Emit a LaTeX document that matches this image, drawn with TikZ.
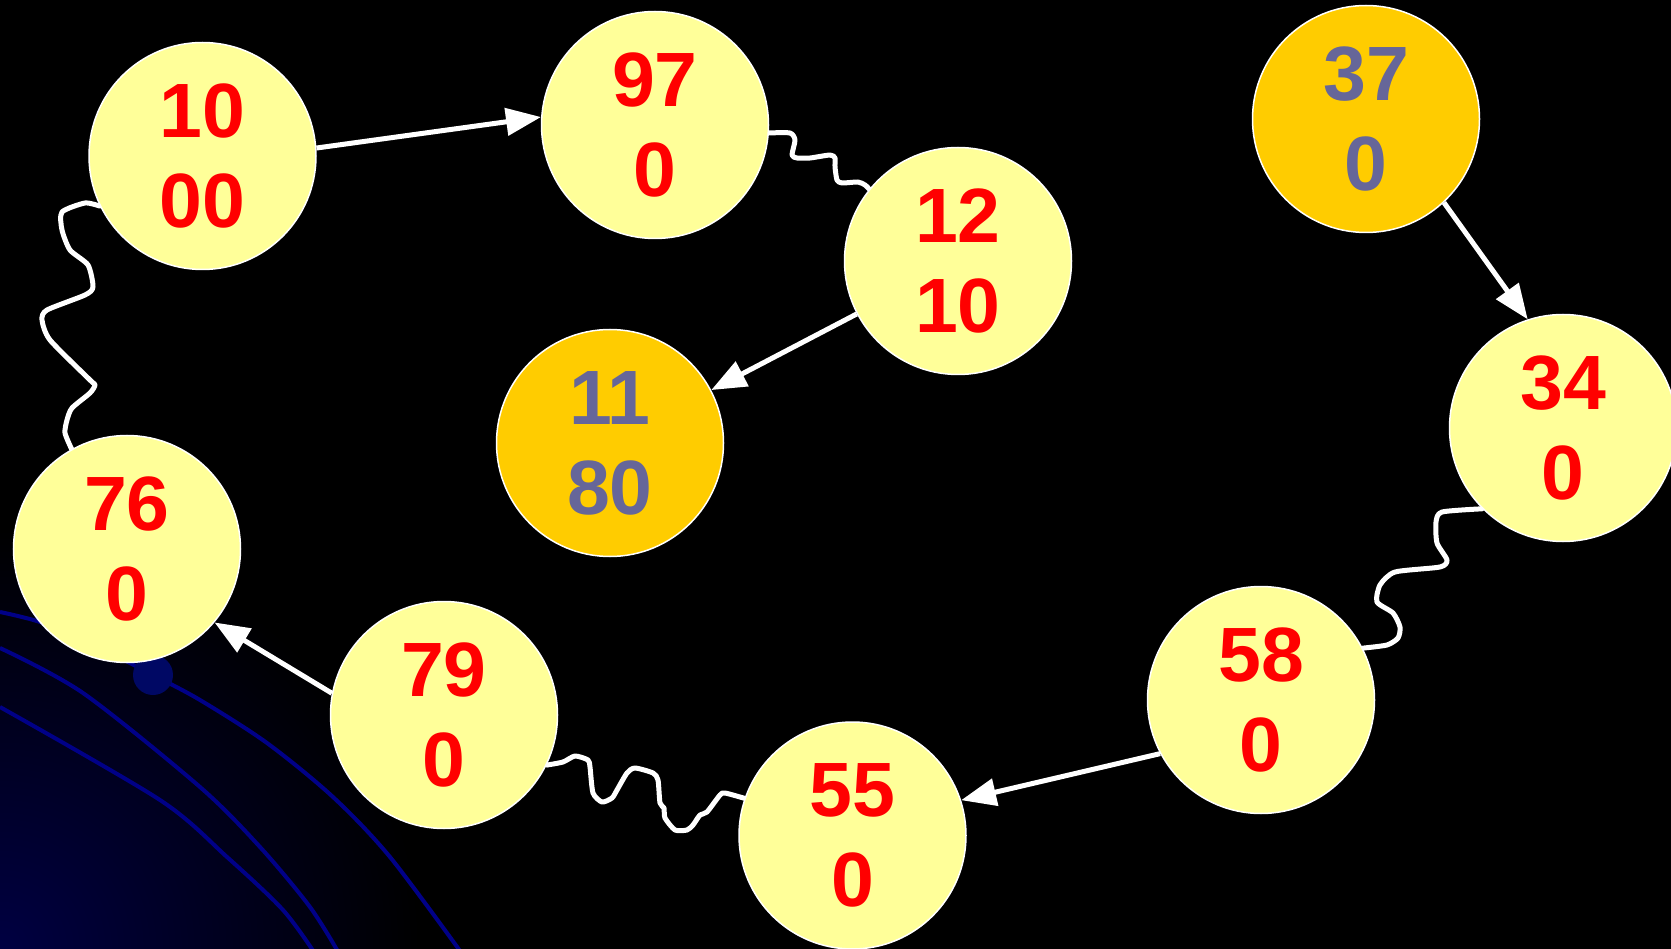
\documentclass[tikz,border=0pt]{standalone}
\usepackage{fontspec}
\setmainfont{Liberation Sans}
\usetikzlibrary{arrows.meta}
\definecolor{nodeyellow}{HTML}{FFFF99}
\definecolor{nodeorange}{HTML}{FFCC00}
\definecolor{nodegrey}{HTML}{666699}
\definecolor{deepnavy}{RGB}{0,0,66}
\definecolor{curvenavy}{RGB}{0,0,135}
\definecolor{dotnavy}{RGB}{0,8,100}
\pgfdeclarelayer{bglayer}
\pgfdeclarelayer{connlayer}
\pgfsetlayers{bglayer,connlayer,main}
\begin{document}
\begin{tikzpicture}[x=1pt,y=-1pt,
  ynode/.style={circle, fill=nodeyellow, draw=white, line width=1.5pt,
    minimum size=227pt, inner sep=0pt, text=red,
    font=\fontsize{77}{90}\selectfont\bfseries, align=center},
  onode/.style={ynode, fill=nodeorange, text=nodegrey},
  arrowline/.style={draw=white, line width=5pt,
    -{Triangle[length=35pt,width=27pt]}},
  wavyline/.style={draw=white, line width=5pt, line join=round, line cap=round},
  bgcurve/.style={draw=curvenavy, line width=4pt}]
\useasboundingbox (0,0) rectangle (1671,949);

% nodes
\node[ynode] (n1000) at (202.5,156) {10\\00};
\node[ynode] (n970)  at (655,125) {97\\0};
\node[ynode] (n1210) at (958,261) {12\\10};
\node[onode] (n1180) at (610,443) {11\\80};
\node[onode] (n370)  at (1366,119) {37\\0};
\node[ynode] (n340)  at (1563,428) {34\\0};
\node[ynode] (n580)  at (1261,700) {58\\0};
\node[ynode] (n550)  at (852.5,835.5) {55\\0};
\node[ynode] (n790)  at (444,715) {79\\0};
\node[ynode] (n760)  at (127,549) {76\\0};

% background
\begin{pgfonlayer}{bglayer}
\fill[black] (0,0) rectangle (1671,949);
\begin{scope}
\clip (0,0) rectangle (1671,949);
\shade[inner color=deepnavy, outer color=black] (0,949) circle[radius=420pt];
\draw[bgcurve] plot[smooth] coordinates {(0,612) (43,623) (100,648) (153,675) (200,700) (267,743) (333,797) (390,857) (463,955)};
\draw[bgcurve] plot[smooth] coordinates {(0,648) (83,693) (200,787) (260,847) (310,907) (340,955)};
\draw[bgcurve] plot[smooth] coordinates {(0,707) (160,800) (227,857) (283,910) (316,955)};
\fill[dotnavy] (153,675) circle[radius=20pt];
\end{scope}
\end{pgfonlayer}

% wavy connectors
\begin{pgfonlayer}{connlayer}
\draw[wavyline] plot[smooth, tension=0.4] coordinates {(n1000.206) (85,203) (62,212) (62,230) (70,250) (88,265) (93,287) (85,295) (47,310) (42,320) (50,340) (90,380) (95,385) (90,393) (72,408) (67,420) (65,433) (n760.119)};
\draw[wavyline] plot[smooth, tension=0.4] coordinates {(n970.-4) (790,133) (795,140) (792,155) (797,158) (810,158) (830,155) (835,158) (835,167) (837,180) (842,183) (858,182) (865,185) (n1210.141)};
\draw[wavyline] plot[smooth, tension=0.4] coordinates {(n340.225) (1442,512) (1436,522) (1437,543) (1447,560) (1440,567) (1395,572) (1380,585) (1377,602) (1393,613) (1400,627) (1398,638) (1387,645) (n580.27)};
\draw[wavyline] plot[smooth, tension=0.4] coordinates {(n790.-26) (563,762) (575,756) (588,760) (590,767) (593,793) (602,802) (612,798) (617,790) (627,773) (635,768) (653,773) (658,780) (660,803) (664,808) (665,818) (675,830) (687,830) (693,825) (700,815) (707,812) (720,795) (725,793) (n550.161)};
\end{pgfonlayer}

% arrows
\draw[arrowline] (n1000.4.5) -- (n970.176.5);
\draw[arrowline] (n1210) -- (n1180);
\draw[arrowline] (n370.-47) -- (n340.108);
\draw[arrowline] (n580.208) -- (n550.18);
\draw[arrowline] (n790.169) -- (n760.-40);
\end{tikzpicture}
\end{document}
